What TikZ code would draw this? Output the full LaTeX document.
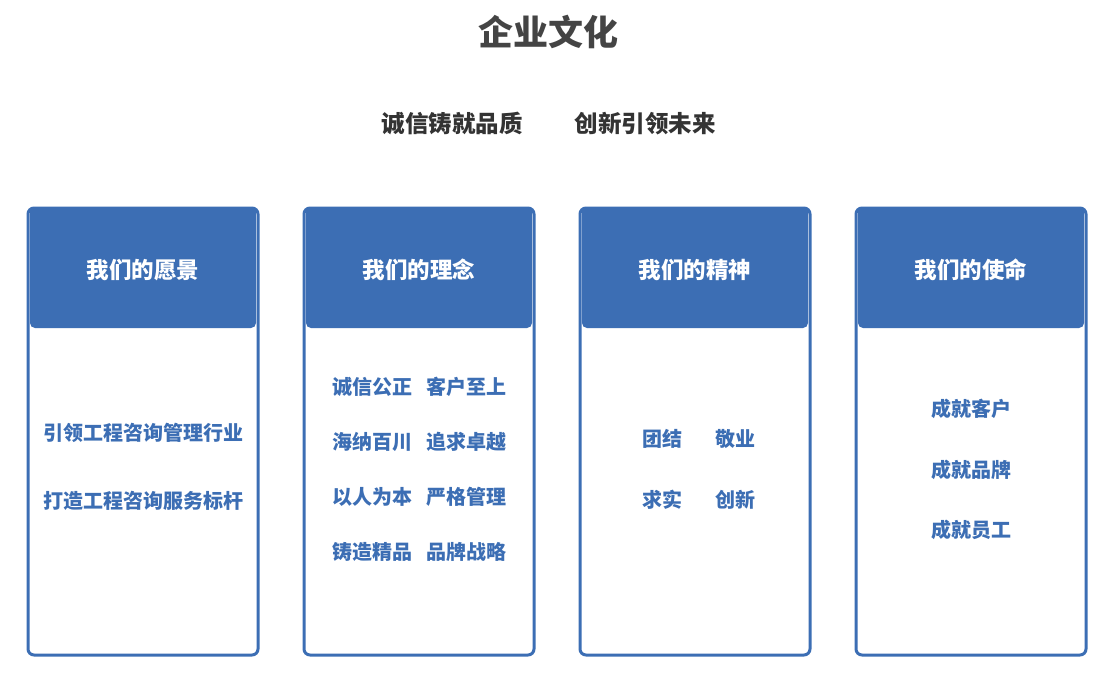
\documentclass[tikz,border=0pt]{standalone}
\usepackage{fontspec}
\newfontfamily\cjk{Noto Sans CJK SC}
\definecolor{cblue}{HTML}{3C6EB4}
\definecolor{tgray}{HTML}{444444}
\begin{document}
\begin{tikzpicture}[x=1pt,y=-1pt,
  title/.style={font=\cjk\bfseries\fontsize{35}{40}\selectfont,text=tgray},
  sub/.style={font=\cjk\bfseries\fontsize{23.5}{28}\selectfont,text=black!80},
  head/.style={font=\cjk\bfseries\fontsize{22.5}{26}\selectfont,text=white},
  body/.style={font=\cjk\bfseries\fontsize{20}{24}\selectfont,text=cblue},
  card/.style={draw=cblue,line width=3pt,rounded corners=6pt,fill=white},
  hdr/.style={fill=cblue,rounded corners=5pt}]
\useasboundingbox (0,0) rectangle (1110,680);
\node[title] (t) at (548,32) {企业文化};
\node[sub] (s1) at (452,124) {诚信铸就品质};
\node[sub] (s2) at (645,124) {创新引领未来};
\foreach \x/\h [count=\i] in {28/我们的愿景,304/我们的理念,580/我们的精神,856/我们的使命}{
  \draw[card] (\x,208) rectangle (\x+230,655);
  \fill[hdr] (\x+2,208) rectangle (\x+228,328);
  \fill[cblue] (\x+2,209) rectangle (\x+228,300);
  \node[head] (h\i) at (\x+115,270) {\h};
}
\node[body] (a1) at (143,433) {引领工程咨询管理行业};
\node[body] (a2) at (143,501) {打造工程咨询服务标杆};
\node[body] (b1) at (372,387) {诚信公正};
\node[body] (b2) at (466,387) {客户至上};
\node[body] (b3) at (372,442) {海纳百川};
\node[body] (b4) at (466,442) {追求卓越};
\node[body] (b5) at (372,497) {以人为本};
\node[body] (b6) at (466,497) {严格管理};
\node[body] (b7) at (372,552) {铸造精品};
\node[body] (b8) at (466,552) {品牌战略};
\node[body] (c1) at (662,439) {团结};
\node[body] (c2) at (735,439) {敬业};
\node[body] (c3) at (662,500) {求实};
\node[body] (c4) at (735,500) {创新};
\node[body] (d1) at (971,409) {成就客户};
\node[body] (d2) at (971,470) {成就品牌};
\node[body] (d3) at (971,530) {成就员工};
\end{tikzpicture}
\end{document}
